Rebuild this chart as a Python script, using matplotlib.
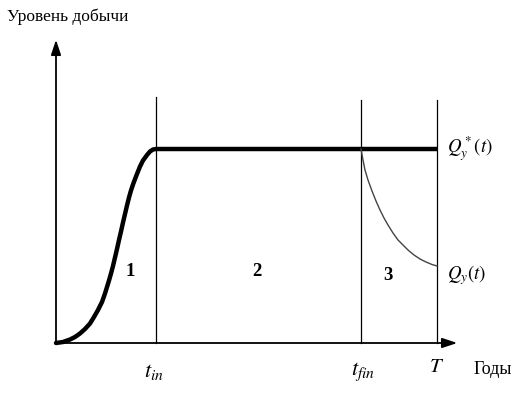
import matplotlib
matplotlib.use("Agg")
import matplotlib.pyplot as plt

plt.rcParams['mathtext.fontset'] = 'stix'
plt.rcParams['font.family'] = ['Liberation Serif', 'DejaVu Serif']

# Key times (years, arbitrary units) and production level
t_in = 100
t_fin = 305
T_end = 381
plateau = 194

# Ramp-up curve (phase 1)
rise_t = [0, 7, 14, 19, 24, 29, 34, 38, 42, 46, 49, 51, 53, 55, 57, 59, 61, 63, 65, 67,
          69, 71, 73, 75, 77, 80, 84, 87, 91, 94, 97, 100]
rise_q = [0, 1, 3.5, 6, 9.5, 14, 19.5, 26, 33, 41, 49.5, 56, 62.5, 69.5, 77, 85.5, 94, 103, 111.5, 120.5,
          129, 137.5, 145.5, 152.5, 158.5, 166.5, 176.5, 182.5, 188, 191.5, 193.5, 194]

# Plateau Q_y*(t)
plat_t = [100, 381]
plat_q = [194, 194]

# Decline curve Q_y(t) (phase 3)
dec_t = [305, 307, 309, 312, 316, 320, 324, 328, 332, 337, 342, 347, 352, 358, 364, 370, 376, 381]
dec_q = [194, 183, 173, 163, 152, 142, 133, 125, 118, 110, 103, 98, 93, 88, 84, 81, 78.5, 77]

region_labels = ["1", "2", "3"]
region_x = [74, 201, 332]
region_y = [71, 71, 68]

fig = plt.figure(figsize=(5.32, 3.99), dpi=100)
ax = fig.add_axes([0, 0, 1, 1])
ax.set_xlim(-56, 532 - 56)
ax.set_ylim(343 - 399, 343)
ax.axis('off')

# axes with arrows
ax.annotate('', xy=(404, 0), xytext=(-1, 0),
            arrowprops=dict(arrowstyle='-|>,head_length=0.9,head_width=0.3', color='black', lw=1.3))
ax.annotate('', xy=(0, 306), xytext=(0, -1),
            arrowprops=dict(arrowstyle='-|>,head_length=0.9,head_width=0.3', color='black', lw=1.3))

# vertical boundaries
for xv, top in [(t_in, 246), (t_fin, 243), (T_end, 243)]:
    ax.plot([xv, xv], [0, top], color='black', lw=0.9)

# curves
ax.plot(rise_t, rise_q, color='black', lw=3.2, solid_capstyle='round', solid_joinstyle='round')
ax.plot(plat_t, plat_q, color='black', lw=3.2, solid_capstyle='butt')
ax.plot(dec_t, dec_q, color='#444444', lw=1.0, solid_joinstyle='round')

for lab, xl, yl in zip(region_labels, region_x, region_y):
    ax.text(xl, yl, lab, fontsize=13.5, fontweight='bold', ha='center', va='center')

ax.text(-49, 326, 'Уровень добычи', fontsize=12.5, ha='left', va='center')
ax.text(418, -27, 'Годы', fontsize=13, ha='left', va='center')
ax.text(t_in - 2, -29, r'$t_{in}$', fontsize=16, ha='center', va='center')
ax.text(t_fin + 2, -29, r'$t_{fin}$', fontsize=16, ha='center', va='center')
ax.text(T_end, -25, r'$T$', fontsize=15, ha='center', va='center')
ax.text(T_end + 10, plateau, r'$Q_y^*(t)$', fontsize=13.5, ha='left', va='center')
ax.text(T_end + 10, 68, r'$Q_y(t)$', fontsize=13.5, ha='left', va='center')

fig.savefig('out.png', dpi=100)
